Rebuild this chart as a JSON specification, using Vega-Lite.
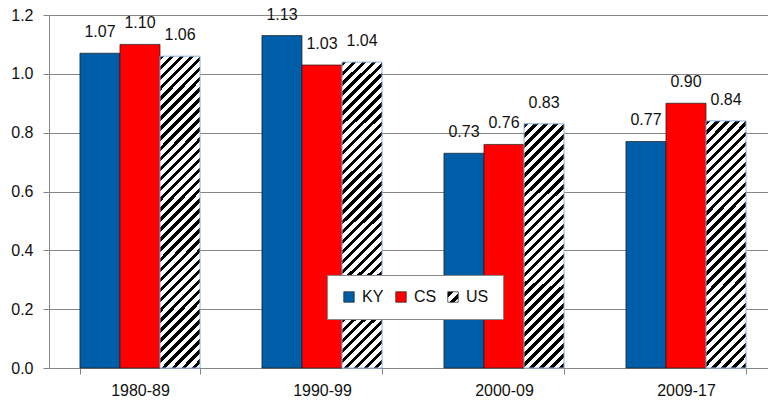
{
  "$schema": "https://vega.github.io/schema/vega-lite/v6.json",
  "width": 719,
  "height": 353,
  "autosize": {"type": "none"},
  "padding": {"left": 49, "top": 15, "right": 0, "bottom": 34},
  "background": "white",
  "config": {"view": {"stroke": null}, "font": "Liberation Sans"},
  "data": {"values": [
    {"period": "1980-89", "s": "KY", "v": 1.07},
    {"period": "1980-89", "s": "CS", "v": 1.10},
    {"period": "1980-89", "s": "US", "v": 1.06},
    {"period": "1990-99", "s": "KY", "v": 1.13},
    {"period": "1990-99", "s": "CS", "v": 1.03},
    {"period": "1990-99", "s": "US", "v": 1.04},
    {"period": "2000-09", "s": "KY", "v": 0.73},
    {"period": "2000-09", "s": "CS", "v": 0.76},
    {"period": "2000-09", "s": "US", "v": 0.83},
    {"period": "2009-17", "s": "KY", "v": 0.77},
    {"period": "2009-17", "s": "CS", "v": 0.90},
    {"period": "2009-17", "s": "US", "v": 0.84}
  ]},
  "encoding": {
    "x": {"field": "period", "type": "nominal", "sort": null,
      "scale": {"range": [0, 728], "paddingInner": 0.34, "paddingOuter": 0.17},
      "axis": {"title": null, "labelAngle": 0, "domainColor": "#868686", "tickColor": "#868686", "tickSize": 6, "tickBand": "extent", "labelPadding": 8, "labelFontSize": 16, "labelColor": "#111", "grid": false}},
    "xOffset": {"field": "s", "type": "nominal", "sort": null, "scale": {"domain": ["KY", "CS", "US"]}},
    "y": {"field": "v", "type": "quantitative", "scale": {"domain": [0, 1.2]},
      "axis": {"title": null, "values": [0, 0.2, 0.4, 0.6, 0.8, 1.0, 1.2], "format": ".1f", "grid": true, "gridColor": "#868686", "domainColor": "#868686", "tickColor": "#868686", "tickSize": 6, "labelPadding": 10, "labelFontSize": 16, "labelColor": "#111"}}
  },
  "layer": [
    {
      "transform": [{"filter": "datum.s !== 'US'"}],
      "mark": {"type": "bar", "stroke": "#1a1a1a", "strokeWidth": 0.7},
      "encoding": {
        "color": {"field": "s", "type": "nominal",
          "scale": {"domain": ["KY", "CS", "US"], "range": ["#005EA8", "#FF0000", {"expr": "{gradient:'linear',x1:0,y1:0,x2:1,y2:1,stops:[{offset:0,color:'#000'},{offset:0.3,color:'#000'},{offset:0.3,color:'#fff'},{offset:0.55,color:'#fff'},{offset:0.55,color:'#000'},{offset:0.8,color:'#000'},{offset:0.8,color:'#fff'},{offset:1,color:'#fff'}]}"}]},
          "legend": {"title": null, "orient": "none", "legendX": 278, "legendY": 260, "direction": "horizontal", "symbolType": "square", "symbolSize": 110, "labelFontSize": 16, "labelColor": "#111", "labelOffset": 5, "columnPadding": 8, "padding": 14, "fillColor": "white", "strokeColor": "#888", "gridAlign": "all", "symbolStrokeColor": "#222", "symbolStrokeWidth": 0.7}}
      }
    },
    {
      "transform": [{"filter": "datum.s === 'US' && datum.v > 1"}],
      "mark": {"type": "bar", "stroke": "#8EB4E3", "strokeWidth": 1,
        "fill": {"gradient": "linear", "x1": 0, "y1": 0, "x2": 0.14421, "y2": 1.11402, "stops": [
          {"offset": 0, "color": "#000"}, {"offset": 0.012857, "color": "#000"}, {"offset": 0.012857, "color": "#fff"}, {"offset": 0.028571, "color": "#fff"},
          {"offset": 0.028571, "color": "#000"}, {"offset": 0.041429, "color": "#000"}, {"offset": 0.041429, "color": "#fff"}, {"offset": 0.057143, "color": "#fff"},
          {"offset": 0.057143, "color": "#000"}, {"offset": 0.07, "color": "#000"}, {"offset": 0.07, "color": "#fff"}, {"offset": 0.085714, "color": "#fff"},
          {"offset": 0.085714, "color": "#000"}, {"offset": 0.098571, "color": "#000"}, {"offset": 0.098571, "color": "#fff"}, {"offset": 0.114286, "color": "#fff"},
          {"offset": 0.114286, "color": "#000"}, {"offset": 0.127143, "color": "#000"}, {"offset": 0.127143, "color": "#fff"}, {"offset": 0.142857, "color": "#fff"},
          {"offset": 0.142857, "color": "#000"}, {"offset": 0.155714, "color": "#000"}, {"offset": 0.155714, "color": "#fff"}, {"offset": 0.171429, "color": "#fff"},
          {"offset": 0.171429, "color": "#000"}, {"offset": 0.184286, "color": "#000"}, {"offset": 0.184286, "color": "#fff"}, {"offset": 0.2, "color": "#fff"},
          {"offset": 0.2, "color": "#000"}, {"offset": 0.212857, "color": "#000"}, {"offset": 0.212857, "color": "#fff"}, {"offset": 0.228571, "color": "#fff"},
          {"offset": 0.228571, "color": "#000"}, {"offset": 0.241429, "color": "#000"}, {"offset": 0.241429, "color": "#fff"}, {"offset": 0.257143, "color": "#fff"},
          {"offset": 0.257143, "color": "#000"}, {"offset": 0.27, "color": "#000"}, {"offset": 0.27, "color": "#fff"}, {"offset": 0.285714, "color": "#fff"},
          {"offset": 0.285714, "color": "#000"}, {"offset": 0.298571, "color": "#000"}, {"offset": 0.298571, "color": "#fff"}, {"offset": 0.314286, "color": "#fff"},
          {"offset": 0.314286, "color": "#000"}, {"offset": 0.327143, "color": "#000"}, {"offset": 0.327143, "color": "#fff"}, {"offset": 0.342857, "color": "#fff"},
          {"offset": 0.342857, "color": "#000"}, {"offset": 0.355714, "color": "#000"}, {"offset": 0.355714, "color": "#fff"}, {"offset": 0.371429, "color": "#fff"},
          {"offset": 0.371429, "color": "#000"}, {"offset": 0.384286, "color": "#000"}, {"offset": 0.384286, "color": "#fff"}, {"offset": 0.4, "color": "#fff"},
          {"offset": 0.4, "color": "#000"}, {"offset": 0.412857, "color": "#000"}, {"offset": 0.412857, "color": "#fff"}, {"offset": 0.428571, "color": "#fff"},
          {"offset": 0.428571, "color": "#000"}, {"offset": 0.441429, "color": "#000"}, {"offset": 0.441429, "color": "#fff"}, {"offset": 0.457143, "color": "#fff"},
          {"offset": 0.457143, "color": "#000"}, {"offset": 0.47, "color": "#000"}, {"offset": 0.47, "color": "#fff"}, {"offset": 0.485714, "color": "#fff"},
          {"offset": 0.485714, "color": "#000"}, {"offset": 0.498571, "color": "#000"}, {"offset": 0.498571, "color": "#fff"}, {"offset": 0.514286, "color": "#fff"},
          {"offset": 0.514286, "color": "#000"}, {"offset": 0.527143, "color": "#000"}, {"offset": 0.527143, "color": "#fff"}, {"offset": 0.542857, "color": "#fff"},
          {"offset": 0.542857, "color": "#000"}, {"offset": 0.555714, "color": "#000"}, {"offset": 0.555714, "color": "#fff"}, {"offset": 0.571429, "color": "#fff"},
          {"offset": 0.571429, "color": "#000"}, {"offset": 0.584286, "color": "#000"}, {"offset": 0.584286, "color": "#fff"}, {"offset": 0.6, "color": "#fff"},
          {"offset": 0.6, "color": "#000"}, {"offset": 0.612857, "color": "#000"}, {"offset": 0.612857, "color": "#fff"}, {"offset": 0.628571, "color": "#fff"},
          {"offset": 0.628571, "color": "#000"}, {"offset": 0.641429, "color": "#000"}, {"offset": 0.641429, "color": "#fff"}, {"offset": 0.657143, "color": "#fff"},
          {"offset": 0.657143, "color": "#000"}, {"offset": 0.67, "color": "#000"}, {"offset": 0.67, "color": "#fff"}, {"offset": 0.685714, "color": "#fff"},
          {"offset": 0.685714, "color": "#000"}, {"offset": 0.698571, "color": "#000"}, {"offset": 0.698571, "color": "#fff"}, {"offset": 0.714286, "color": "#fff"},
          {"offset": 0.714286, "color": "#000"}, {"offset": 0.727143, "color": "#000"}, {"offset": 0.727143, "color": "#fff"}, {"offset": 0.742857, "color": "#fff"},
          {"offset": 0.742857, "color": "#000"}, {"offset": 0.755714, "color": "#000"}, {"offset": 0.755714, "color": "#fff"}, {"offset": 0.771429, "color": "#fff"},
          {"offset": 0.771429, "color": "#000"}, {"offset": 0.784286, "color": "#000"}, {"offset": 0.784286, "color": "#fff"}, {"offset": 0.8, "color": "#fff"},
          {"offset": 0.8, "color": "#000"}, {"offset": 0.812857, "color": "#000"}, {"offset": 0.812857, "color": "#fff"}, {"offset": 0.828571, "color": "#fff"},
          {"offset": 0.828571, "color": "#000"}, {"offset": 0.841429, "color": "#000"}, {"offset": 0.841429, "color": "#fff"}, {"offset": 0.857143, "color": "#fff"},
          {"offset": 0.857143, "color": "#000"}, {"offset": 0.87, "color": "#000"}, {"offset": 0.87, "color": "#fff"}, {"offset": 0.885714, "color": "#fff"},
          {"offset": 0.885714, "color": "#000"}, {"offset": 0.898571, "color": "#000"}, {"offset": 0.898571, "color": "#fff"}, {"offset": 0.914286, "color": "#fff"},
          {"offset": 0.914286, "color": "#000"}, {"offset": 0.927143, "color": "#000"}, {"offset": 0.927143, "color": "#fff"}, {"offset": 0.942857, "color": "#fff"},
          {"offset": 0.942857, "color": "#000"}, {"offset": 0.955714, "color": "#000"}, {"offset": 0.955714, "color": "#fff"}, {"offset": 0.971429, "color": "#fff"},
          {"offset": 0.971429, "color": "#000"}, {"offset": 0.984286, "color": "#000"}, {"offset": 0.984286, "color": "#fff"}, {"offset": 1, "color": "#fff"}
        ]}}
    },
    {
      "transform": [{"filter": "datum.s === 'US' && datum.v < 1"}],
      "mark": {"type": "bar", "stroke": "#8EB4E3", "strokeWidth": 1,
        "fill": {"gradient": "linear", "x1": 0, "y1": 0, "x2": 0.22628, "y2": 1.3888, "stops": [
          {"offset": 0, "color": "#000"}, {"offset": 0.012857, "color": "#000"}, {"offset": 0.012857, "color": "#fff"}, {"offset": 0.028571, "color": "#fff"},
          {"offset": 0.028571, "color": "#000"}, {"offset": 0.041429, "color": "#000"}, {"offset": 0.041429, "color": "#fff"}, {"offset": 0.057143, "color": "#fff"},
          {"offset": 0.057143, "color": "#000"}, {"offset": 0.07, "color": "#000"}, {"offset": 0.07, "color": "#fff"}, {"offset": 0.085714, "color": "#fff"},
          {"offset": 0.085714, "color": "#000"}, {"offset": 0.098571, "color": "#000"}, {"offset": 0.098571, "color": "#fff"}, {"offset": 0.114286, "color": "#fff"},
          {"offset": 0.114286, "color": "#000"}, {"offset": 0.127143, "color": "#000"}, {"offset": 0.127143, "color": "#fff"}, {"offset": 0.142857, "color": "#fff"},
          {"offset": 0.142857, "color": "#000"}, {"offset": 0.155714, "color": "#000"}, {"offset": 0.155714, "color": "#fff"}, {"offset": 0.171429, "color": "#fff"},
          {"offset": 0.171429, "color": "#000"}, {"offset": 0.184286, "color": "#000"}, {"offset": 0.184286, "color": "#fff"}, {"offset": 0.2, "color": "#fff"},
          {"offset": 0.2, "color": "#000"}, {"offset": 0.212857, "color": "#000"}, {"offset": 0.212857, "color": "#fff"}, {"offset": 0.228571, "color": "#fff"},
          {"offset": 0.228571, "color": "#000"}, {"offset": 0.241429, "color": "#000"}, {"offset": 0.241429, "color": "#fff"}, {"offset": 0.257143, "color": "#fff"},
          {"offset": 0.257143, "color": "#000"}, {"offset": 0.27, "color": "#000"}, {"offset": 0.27, "color": "#fff"}, {"offset": 0.285714, "color": "#fff"},
          {"offset": 0.285714, "color": "#000"}, {"offset": 0.298571, "color": "#000"}, {"offset": 0.298571, "color": "#fff"}, {"offset": 0.314286, "color": "#fff"},
          {"offset": 0.314286, "color": "#000"}, {"offset": 0.327143, "color": "#000"}, {"offset": 0.327143, "color": "#fff"}, {"offset": 0.342857, "color": "#fff"},
          {"offset": 0.342857, "color": "#000"}, {"offset": 0.355714, "color": "#000"}, {"offset": 0.355714, "color": "#fff"}, {"offset": 0.371429, "color": "#fff"},
          {"offset": 0.371429, "color": "#000"}, {"offset": 0.384286, "color": "#000"}, {"offset": 0.384286, "color": "#fff"}, {"offset": 0.4, "color": "#fff"},
          {"offset": 0.4, "color": "#000"}, {"offset": 0.412857, "color": "#000"}, {"offset": 0.412857, "color": "#fff"}, {"offset": 0.428571, "color": "#fff"},
          {"offset": 0.428571, "color": "#000"}, {"offset": 0.441429, "color": "#000"}, {"offset": 0.441429, "color": "#fff"}, {"offset": 0.457143, "color": "#fff"},
          {"offset": 0.457143, "color": "#000"}, {"offset": 0.47, "color": "#000"}, {"offset": 0.47, "color": "#fff"}, {"offset": 0.485714, "color": "#fff"},
          {"offset": 0.485714, "color": "#000"}, {"offset": 0.498571, "color": "#000"}, {"offset": 0.498571, "color": "#fff"}, {"offset": 0.514286, "color": "#fff"},
          {"offset": 0.514286, "color": "#000"}, {"offset": 0.527143, "color": "#000"}, {"offset": 0.527143, "color": "#fff"}, {"offset": 0.542857, "color": "#fff"},
          {"offset": 0.542857, "color": "#000"}, {"offset": 0.555714, "color": "#000"}, {"offset": 0.555714, "color": "#fff"}, {"offset": 0.571429, "color": "#fff"},
          {"offset": 0.571429, "color": "#000"}, {"offset": 0.584286, "color": "#000"}, {"offset": 0.584286, "color": "#fff"}, {"offset": 0.6, "color": "#fff"},
          {"offset": 0.6, "color": "#000"}, {"offset": 0.612857, "color": "#000"}, {"offset": 0.612857, "color": "#fff"}, {"offset": 0.628571, "color": "#fff"},
          {"offset": 0.628571, "color": "#000"}, {"offset": 0.641429, "color": "#000"}, {"offset": 0.641429, "color": "#fff"}, {"offset": 0.657143, "color": "#fff"},
          {"offset": 0.657143, "color": "#000"}, {"offset": 0.67, "color": "#000"}, {"offset": 0.67, "color": "#fff"}, {"offset": 0.685714, "color": "#fff"},
          {"offset": 0.685714, "color": "#000"}, {"offset": 0.698571, "color": "#000"}, {"offset": 0.698571, "color": "#fff"}, {"offset": 0.714286, "color": "#fff"},
          {"offset": 0.714286, "color": "#000"}, {"offset": 0.727143, "color": "#000"}, {"offset": 0.727143, "color": "#fff"}, {"offset": 0.742857, "color": "#fff"},
          {"offset": 0.742857, "color": "#000"}, {"offset": 0.755714, "color": "#000"}, {"offset": 0.755714, "color": "#fff"}, {"offset": 0.771429, "color": "#fff"},
          {"offset": 0.771429, "color": "#000"}, {"offset": 0.784286, "color": "#000"}, {"offset": 0.784286, "color": "#fff"}, {"offset": 0.8, "color": "#fff"},
          {"offset": 0.8, "color": "#000"}, {"offset": 0.812857, "color": "#000"}, {"offset": 0.812857, "color": "#fff"}, {"offset": 0.828571, "color": "#fff"},
          {"offset": 0.828571, "color": "#000"}, {"offset": 0.841429, "color": "#000"}, {"offset": 0.841429, "color": "#fff"}, {"offset": 1, "color": "#fff"}
        ]}}
    },
    {
      "mark": {"type": "text", "baseline": "alphabetic", "dy": -16, "fontSize": 16, "color": "#111"},
      "encoding": {"text": {"field": "v", "type": "quantitative", "format": ".2f"}}
    }
  ]
}
